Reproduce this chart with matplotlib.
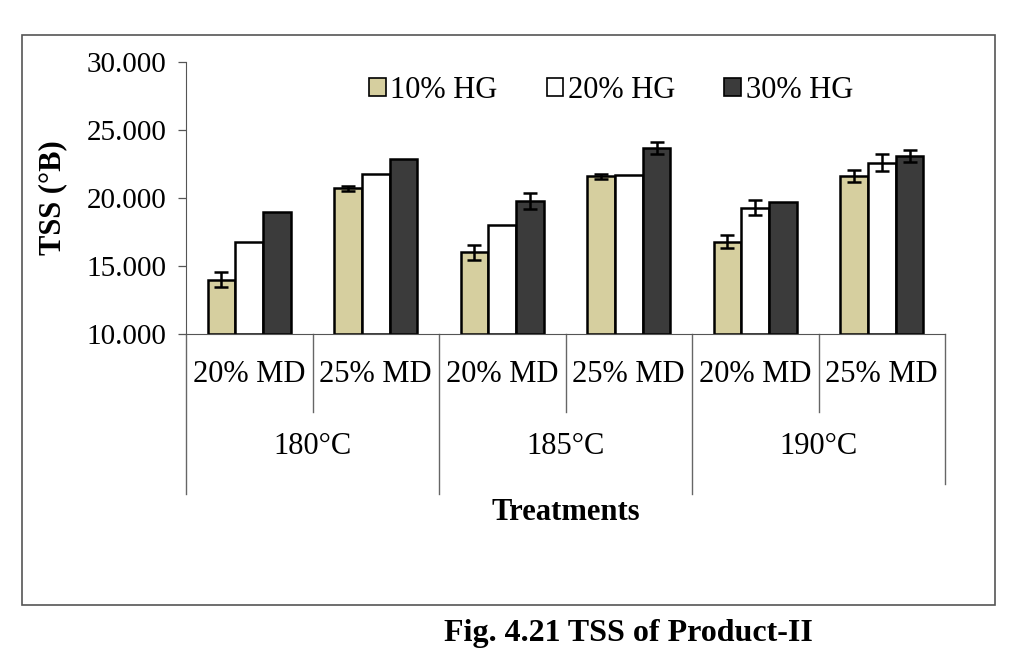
import numpy as np
import matplotlib
matplotlib.use("Agg")
import matplotlib.pyplot as plt
from matplotlib.patches import Rectangle

plt.rcParams['font.family'] = ['Liberation Serif', 'DejaVu Serif']

md_labels = ["20% MD", "25% MD", "20% MD", "25% MD", "20% MD", "25% MD"]
temp_labels = ["180°C", "185°C", "190°C"]
series_names = ["10% HG", "20% HG", "30% HG"]
hg10 = [14.0, 20.7, 16.0, 21.6, 16.8, 21.6]
hg20 = [16.8, 21.8, 18.0, 21.7, 19.3, 22.6]
hg30 = [19.0, 22.9, 19.8, 23.7, 19.7, 23.1]
err10 = [0.55, 0.2, 0.55, 0.2, 0.5, 0.45]
err20 = [0.0, 0.0, 0.0, 0.0, 0.55, 0.6]
err30 = [0.0, 0.0, 0.6, 0.45, 0.0, 0.45]
yticks = [10, 15, 20, 25, 30]

colors = ["#d6cf9f", "#ffffff", "#3b3b3b"]

W, H = 1016, 662
fig = plt.figure(figsize=(W / 100, H / 100), dpi=100)
fig.patch.set_facecolor("white")

# outer chart frame
fig.patches.append(Rectangle((22 / W, 1 - 605 / H), (995 - 22) / W, (605 - 35) / H,
                             transform=fig.transFigure, fill=False, edgecolor="#555555",
                             linewidth=1.2))

ax_l, ax_r, ax_top, ax_bot = 186, 945, 62, 334
ax = fig.add_axes([ax_l / W, 1 - ax_bot / H, (ax_r - ax_l) / W, (ax_bot - ax_top) / H])

x = np.arange(len(md_labels))
bw = 0.22
for i, (vals, errs) in enumerate(zip([hg10, hg20, hg30], [err10, err20, err30])):
    pos = x + (i - 1) * bw
    vals = np.array(vals)
    ax.bar(pos, vals - 10, bottom=10, width=bw, color=colors[i], edgecolor="black",
           linewidth=1.8, label=series_names[i], zorder=2)
    errs = np.array(errs)
    m = errs > 0
    ax.errorbar(pos[m], vals[m], yerr=errs[m], fmt="none", ecolor="black",
                elinewidth=1.8, capsize=5, capthick=1.8, zorder=3)

ax.set_xlim(-0.5, len(md_labels) - 0.5)
ax.set_ylim(10, 30)
ax.set_yticks(yticks)
ax.set_yticklabels([f"{t:.3f}" for t in yticks], fontsize=21)
ax.tick_params(axis="y", direction="out", length=6, width=0.9, color="#555555", pad=8)
ax.set_xticks([])
for s in ["top", "right"]:
    ax.spines[s].set_visible(False)
ax.spines["left"].set_color("#555555")
ax.spines["bottom"].set_color("#555555")
ax.set_ylabel("TSS (°B)", fontsize=22, fontweight="bold", labelpad=14)

tr = ax.get_xaxis_transform()
span = ax_bot - ax_top
def fy(px):
    return -px / span

# multi-level category lines
for xs in [0.5, 2.5, 4.5]:
    ax.plot([xs, xs], [0, fy(78)], transform=tr, color="#666666", lw=1.0, clip_on=False)
for xs in [-0.5, 1.5, 3.5]:
    ax.plot([xs, xs], [0, fy(160)], transform=tr, color="#666666", lw=1.0, clip_on=False)
ax.plot([5.5, 5.5], [0, fy(150)], transform=tr, color="#666666", lw=1.0, clip_on=False)

for xi, lab in zip(x, md_labels):
    ax.text(xi, fy(40), lab, transform=tr, ha="center", va="center", fontsize=22)
for gi, lab in enumerate(temp_labels):
    ax.text(2 * gi + 0.5, fy(112), lab, transform=tr, ha="center", va="center", fontsize=22)
ax.text(2.5, fy(178), "Treatments", transform=tr, ha="center", va="center",
        fontsize=22, fontweight="bold")

leg = ax.legend(loc="upper center", bbox_to_anchor=(0.56, 1.05), ncol=3, frameon=False,
                fontsize=22, handlelength=0.55, handleheight=0.55, handletextpad=0.15,
                columnspacing=1.6)
for p in leg.get_patches():
    p.set_linewidth(1.2)

fig.text(628 / W, 1 - 634 / H, "Fig. 4.21 TSS of Product-II", ha="center", va="center",
         fontsize=23, fontweight="bold")

fig.savefig("out.png", dpi=100)
